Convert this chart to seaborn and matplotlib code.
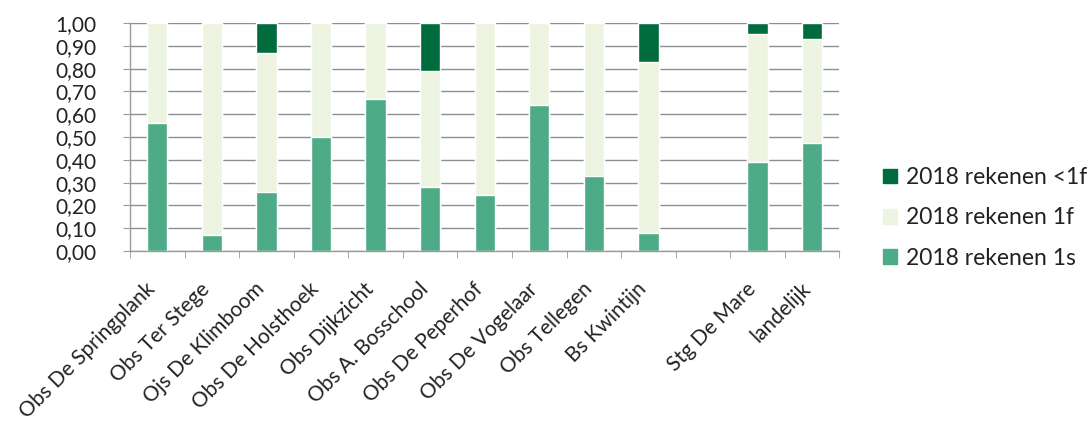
import pandas as pd
import matplotlib.pyplot as plt
import seaborn as sns
from matplotlib.patches import Patch
from matplotlib.ticker import FuncFormatter, FixedLocator
from matplotlib.transforms import ScaledTranslation

# Data (share of pupils per level, rekenen 2018)
schools = ['Obs De Springplank', 'Obs Ter Stege', 'Ojs De Klimboom', 'Obs De Holsthoek',
           'Obs Dijkzicht', 'Obs A. Bosschool', 'Obs De Peperhof', 'Obs De Vogelaar',
           'Obs Tellegen', 'Bs Kwintijn', '', 'Stg De Mare', 'landelijk']
rekenen_1s = [0.56, 0.07, 0.26, 0.50, 0.665, 0.28, 0.245, 0.64, 0.33, 0.08, None, 0.39, 0.475]
rekenen_1f = [0.44, 0.93, 0.61, 0.50, 0.335, 0.51, 0.755, 0.36, 0.67, 0.75, None, 0.56, 0.455]
rekenen_lt1f = [0.0, 0.0, 0.13, 0.0, 0.0, 0.21, 0.0, 0.0, 0.0, 0.17, None, 0.05, 0.07]

df = pd.DataFrame({'school': schools, 's1': rekenen_1s, 'f1': rekenen_1f, 'lt1f': rekenen_lt1f})
df['mid'] = df['s1'] + df['f1']
df['top'] = df['mid'] + df['lt1f']

c_lt1f = '#006b3c'
c_1f = '#eef4e2'
c_1s = '#4dab87'

sns.set_style('white')
plt.rcParams['font.family'] = ['Lato', 'DejaVu Sans']

fig = plt.figure(figsize=(10.88, 4.23), dpi=100)
ax = fig.add_axes([0.1195, 0.4066, 0.652, 0.539])
ax.set_axisbelow(True)

# stacked look: draw cumulative totals from the top down
bar_kw = dict(x='school', order=schools, width=0.37, saturation=1, errorbar=None, ax=ax)
sns.barplot(data=df, y='top', color=c_lt1f, **bar_kw)
sns.barplot(data=df, y='mid', color=c_1f, **bar_kw)
sns.barplot(data=df, y='s1', color=c_1s, **bar_kw)

ax.set_ylim(0, 1.0)
ax.set_xlim(-0.5, len(schools) - 0.5)
ax.set_yticks([i / 10 for i in range(11)])
ax.yaxis.set_major_formatter(FuncFormatter(lambda v, p: f'{v:.2f}'.replace('.', ',')))
ax.yaxis.grid(True, color='#8a8f96', linewidth=1.0)
ax.set_xlabel('')
ax.set_ylabel('')

for side in ['top', 'right']:
    ax.spines[side].set_visible(False)
for side in ['left', 'bottom']:
    ax.spines[side].set_color('#9a9a9a')
    ax.spines[side].set_linewidth(1.0)

ax.tick_params(axis='y', left=True, length=5, color='#9a9a9a', labelsize=15, pad=19, labelcolor='#222222')
ax.tick_params(axis='x', which='major', bottom=False, labelsize=15, pad=8, labelcolor='#222222')
ax.xaxis.set_minor_locator(FixedLocator([i - 0.5 for i in range(len(schools) + 1)]))
ax.tick_params(axis='x', which='minor', bottom=True, length=5, color='#9a9a9a')
shift = ScaledTranslation(-0.12, -0.12, fig.dpi_scale_trans)
for lab in ax.get_xticklabels():
    lab.set_rotation(45)
    lab.set_ha('right')
    lab.set_va('top')
    lab.set_rotation_mode('anchor')
    lab.set_transform(lab.get_transform() + shift)

handles = [Patch(color=c_lt1f, label='2018 rekenen <1f'),
           Patch(color=c_1f, label='2018 rekenen 1f'),
           Patch(color=c_1s, label='2018 rekenen 1s')]
fig.legend(handles=handles, loc='center left', bbox_to_anchor=(0.793, 0.485), frameon=False,
           fontsize=16.5, labelspacing=0.85, handlelength=0.6, handleheight=0.6, handletextpad=0.4,
           labelcolor='#222222')

fig.savefig('out.png', dpi=100)
